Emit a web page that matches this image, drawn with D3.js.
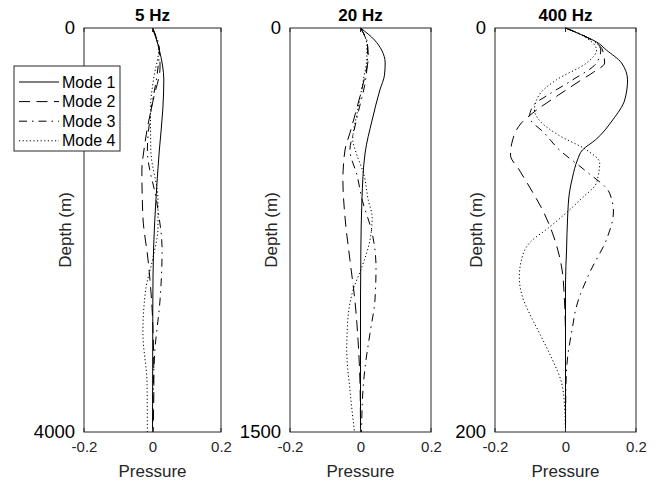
<!DOCTYPE html>
<html><head><meta charset="utf-8">
<script src="https://cdn.jsdelivr.net/npm/d3@7"></script>
<style>body{margin:0;background:#fff}svg{display:block}text{font-family:"Liberation Sans",Arial,sans-serif}</style>
</head><body><svg id="c" width="670" height="483"></svg>
<script>
// ---- data ----
const titles = ["5 Hz", "20 Hz", "400 Hz"];
const maxDepth = [4000, 1500, 200];
const xTicks = [-0.2, 0, 0.2];
const xTickLabels = ["-0.2", "0", "0.2"];
const modeNames = ["Mode 1", "Mode 2", "Mode 3", "Mode 4"];

// 5 Hz
const d5_m1 = [0,218,515,812,1208,1703,2198,2693,4000];
const p5_m1 = [0,0.02,0.033,0.03,0.02,0.01,0.003,0.001,0];
const d5_m2 = [0,218,386,713,1010,1208,1406,1871,2297,2861,3515,4000];
const p5_m2 = [0,0.02,0.022,0.002,-0.016,-0.025,-0.031,-0.028,-0.013,0,0.004,0.002];
const d5_m3 = [0,218,446,812,1208,1733,2198,2693,3188,3584,4000];
const p5_m3 = [0,0.02,0.014,-0.004,-0.015,0.013,0.028,0.022,0.007,0.002,0];
const d5_m4 = [0,218,485,812,1208,1703,1970,2297,2594,3020,3515,4000];
const p5_m4 = [0,0.018,0.004,-0.006,-0.005,0.016,0.016,0,-0.02,-0.028,-0.016,-0.015];

// 20 Hz
const d20_m1 = [0,45,82,130,175,230,342,464,639,824,1010,1500];
const p20_m1 = [0,0.04,0.06,0.07,0.068,0.055,0.033,0.013,0.004,0.001,0,0];
const d20_m2 = [0,63,108,193,305,390,453,564,702,861,1010,1159,1344,1500];
const p20_m2 = [0,0.02,0.022,0.01,-0.012,-0.03,-0.044,-0.05,-0.044,-0.03,-0.016,-0.007,-0.001,0];
const d20_m3 = [0,63,108,204,305,379,453,546,639,761,887,1010,1133,1259,1344,1500];
const p20_m3 = [0,0.02,0.02,0.013,-0.005,-0.018,-0.03,-0.01,0.005,0.033,0.044,0.041,0.027,0.013,0.007,0.003];
const d20_m4 = [0,63,108,193,305,416,453,546,639,702,787,887,973,1084,1196,1344,1500];
const p20_m4 = [0,0.018,0.018,0.008,-0.008,-0.022,-0.015,0.01,0.022,0.033,0.027,0.004,-0.021,-0.036,-0.039,-0.03,-0.017];

// 400 Hz
const d400_m1 = [0,4.5,6.9,10.9,17.3,25.7,35.6,45.5,55.4,60.4,65.3,73.8,81.7,93.6,109.9,126.2,200];
const p400_m1 = [0,0.06,0.088,0.116,0.159,0.176,0.168,0.134,0.085,0.048,0.034,0.02,0.011,0.006,0.003,0,0];
const d400_m2 = [0,4.5,10.9,17.3,21.8,25.7,33.2,40.6,47.0,55.4,62.9,70.3,80.2,90.1,101.5,118.3,134.7,154.4,200];
const p400_m2 = [0,0.06,0.105,0.111,0.08,0.045,-0.02,-0.082,-0.125,-0.15,-0.156,-0.131,-0.097,-0.065,-0.037,-0.011,-0.003,0,0];
const d400_m3 = [0,4.5,10.9,17.3,25.7,33.2,38.1,44.1,52.0,60.4,70.3,81.7,91.1,103.5,121.3,136.1,151.0,162.9,179.2,200];
const p400_m3 = [0,0.06,0.1,0.088,0.02,-0.05,-0.09,-0.102,-0.06,-0.017,0.054,0.125,0.136,0.119,0.068,0.034,0.017,0.006,0.001,0];
const d400_m4 = [0,5,10.9,17.3,25.7,33.2,40.6,46.5,53.0,60.4,66.8,72.8,77.7,83.7,90.1,98.5,106.4,114.8,123.3,133.2,142.1,151.0,164.3,175.7,189.1,200];
const p400_m4 = [0,0.06,0.088,0.06,-0.026,-0.075,-0.088,-0.07,-0.02,0.06,0.097,0.093,0.085,0.05,0.011,-0.045,-0.102,-0.125,-0.131,-0.122,-0.1,-0.074,-0.037,-0.011,-0.002,0];

const panelsData = [
  [[d5_m1,p5_m1],[d5_m2,p5_m2],[d5_m3,p5_m3],[d5_m4,p5_m4]],
  [[d20_m1,p20_m1],[d20_m2,p20_m2],[d20_m3,p20_m3],[d20_m4,p20_m4]],
  [[d400_m1,p400_m1],[d400_m2,p400_m2],[d400_m3,p400_m3],[d400_m4,p400_m4]]
];

// ---- layout / style ----
const panelLeft = [84, 290, 495];
const panelWidth = [137, 141, 141];
const plotTop = 28, plotBottom = 432;
const dashes = [null, "11,6.5", "8,5,1.5,5", "1.2,2.4"];
const axisColor = "#262626";

const svg = d3.select("#c");

panelsData.forEach((series, i) => {
  const x = d3.scaleLinear().domain([-0.2, 0.2]).range([panelLeft[i], panelLeft[i] + panelWidth[i]]);
  const y = d3.scaleLinear().domain([0, maxDepth[i]]).range([plotTop, plotBottom]);
  const g = svg.append("g");
  const [x0, x1] = x.range();

  const line = d3.line().x(d => x(d[1])).y(d => y(d[0])).curve(d3.curveMonotoneY);
  series.forEach((s, k) => {
    const pts = s[0].map((d, j) => [d, s[1][j]]);
    g.append("path").attr("d", line(pts)).attr("fill", "none")
      .attr("stroke", "#000").attr("stroke-width", 1)
      .attr("stroke-dasharray", dashes[k]);
  });

  // box
  g.append("rect").attr("x", x0).attr("y", plotTop).attr("width", x1 - x0).attr("height", plotBottom - plotTop)
    .attr("fill", "none").attr("stroke", axisColor).attr("stroke-width", 1);

  // x axis
  const xa = d3.axisBottom(x).tickValues(xTicks).tickSize(0).tickPadding(9)
    .tickFormat((d, j) => xTickLabels[j]);
  const ax = g.append("g").attr("transform", `translate(0,${plotBottom})`).call(xa);
  ax.select(".domain").remove();
  ax.selectAll("text").attr("font-size", 15).attr("fill", axisColor).attr("font-family", "Liberation Sans, Arial, sans-serif");
  xTicks.forEach(t => {
    g.append("line").attr("x1", x(t)).attr("x2", x(t)).attr("y1", plotBottom).attr("y2", plotBottom - 4).attr("stroke", axisColor);
    g.append("line").attr("x1", x(t)).attr("x2", x(t)).attr("y1", plotTop).attr("y2", plotTop + 4).attr("stroke", axisColor);
  });

  // y axis
  const ya = d3.axisLeft(y).tickValues([0, maxDepth[i]]).tickSize(0).tickPadding(9).tickFormat(d3.format("d"));
  const ay = g.append("g").attr("transform", `translate(${x0},0)`).call(ya);
  ay.select(".domain").remove();
  ay.selectAll("text").attr("font-size", 18.5).attr("fill", "#000").attr("font-family", "Liberation Sans, Arial, sans-serif");

  // titles & labels
  g.append("text").attr("x", (x0 + x1) / 2).attr("y", 21).attr("text-anchor", "middle")
    .attr("font-size", 17).attr("font-weight", "bold").text(titles[i]);
  g.append("text").attr("x", (x0 + x1) / 2).attr("y", 477).attr("text-anchor", "middle")
    .attr("font-size", 17).attr("fill", axisColor).text("Pressure");
  g.append("text").attr("transform", `translate(${x0 - 13},${(plotTop + plotBottom) / 2}) rotate(-90)`)
    .attr("text-anchor", "middle").attr("font-size", 17).attr("fill", axisColor).text("Depth (m)");
});

// legend
const lg = svg.append("g");
lg.append("rect").attr("x", 14).attr("y", 66).attr("width", 106).attr("height", 85)
  .attr("fill", "#fff").attr("stroke", axisColor).attr("stroke-width", 1);
modeNames.forEach((n, k) => {
  const yy = 82 + k * 19.6;
  lg.append("line").attr("x1", 19).attr("x2", 59).attr("y1", yy).attr("y2", yy)
    .attr("stroke", "#000").attr("stroke-width", 1).attr("stroke-dasharray", dashes[k]);
  lg.append("text").attr("x", 62).attr("y", yy + 5.5).attr("font-size", 16).attr("fill", "#000").text(n);
});
</script></body></html>
